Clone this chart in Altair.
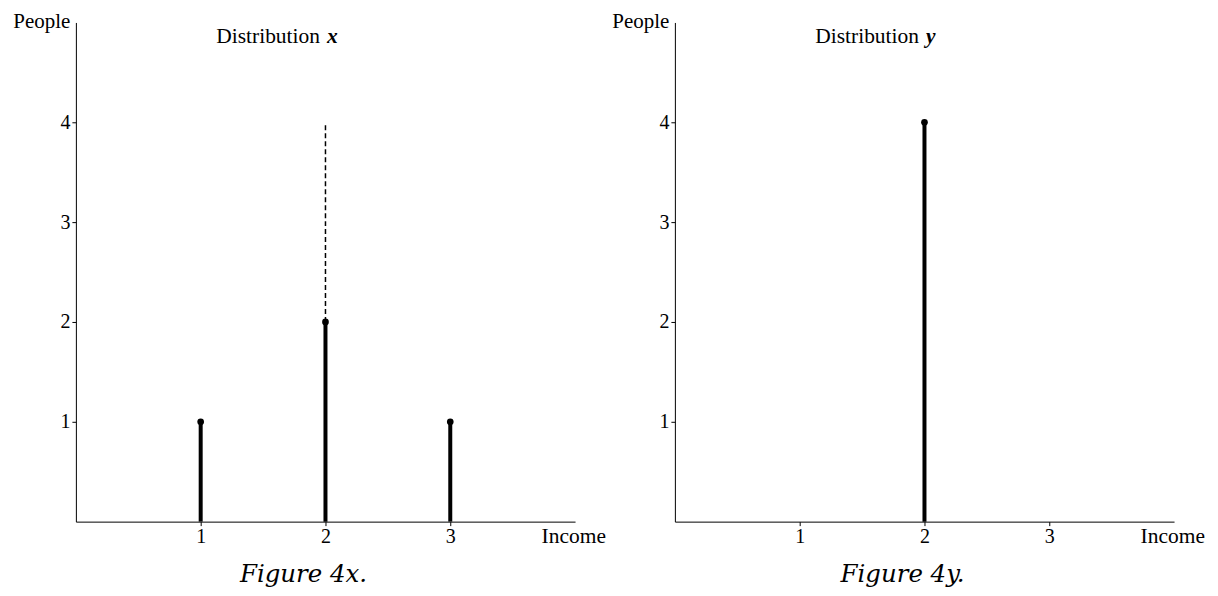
import altair as alt
import pandas as pd

# ---- data ----
income_x = [1, 2, 3]
people_x = [1, 2, 1]
dash_income_x = [2]
dash_from_x = [2]
dash_to_x = [4]

income_y = [2]
people_y = [4]

x_ticks = [1, 2, 3]
y_ticks = [1, 2, 3, 4]
x_domain = [0, 4]
y_domain = [0, 5]

label_pos_x = [1.98]
label_pos_y = [4.79]

SERIF = "Liberation Serif"


def panel(incomes, people, dash_inc, dash_from, dash_to, var, caption):
    df = pd.DataFrame({"income": incomes, "people": people})
    xs = alt.Scale(domain=x_domain, nice=False, zero=False)
    ys = alt.Scale(domain=y_domain, nice=False)
    xaxis = alt.Axis(values=x_ticks, format="d", title="Income", grid=False, domainColor="black",
                     tickColor="black", tickSize=4, labelFont=SERIF, labelFontSize=20,
                     labelColor="black", labelPadding=1, titleFont=SERIF, titleFontSize=21.5,
                     titleFontWeight="normal", titleColor="black", titleAlign="left",
                     titleAnchor="start", titleX=466, titleY=21, titleBaseline="alphabetic")
    yaxis = alt.Axis(values=y_ticks, format="d", title="People", grid=False, domainColor="black",
                     tickColor="black", tickSize=4, labelFont=SERIF, labelFontSize=20,
                     labelColor="black", labelPadding=2, titleFont=SERIF, titleFontSize=21,
                     titleFontWeight="normal", titleColor="black", titleAngle=0,
                     titleAlign="right", titleX=-6, titleY=5, titleBaseline="alphabetic")

    stems = alt.Chart(df).mark_rule(color="black", strokeWidth=4).encode(
        x=alt.X("income:Q", scale=xs, axis=xaxis),
        y=alt.Y("people:Q", scale=ys, axis=yaxis),
        y2=alt.datum(0),
    )
    dots = alt.Chart(df).mark_circle(color="black", size=45, opacity=1).encode(
        x=alt.X("income:Q", scale=xs),
        y=alt.Y("people:Q", scale=ys),
    )
    layers = [stems, dots]
    if dash_inc:
        ddf = pd.DataFrame({"income": dash_inc, "lo": dash_from, "hi": dash_to})
        dashed = alt.Chart(ddf).mark_rule(color="black", strokeWidth=1.5,
                                          strokeDash=[5, 3]).encode(
            x=alt.X("income:Q", scale=xs),
            y=alt.Y("lo:Q", scale=ys),
            y2="hi:Q",
        )
        layers.insert(0, dashed)
    ldf = pd.DataFrame({"lx": label_pos_x, "ly": label_pos_y, "t1": ["Distribution"], "t2": [var]})
    t1 = alt.Chart(ldf).mark_text(font=SERIF, fontSize=21.5, color="black", align="right",
                                  baseline="alphabetic", dx=-3).encode(
        x=alt.X("lx:Q", scale=xs), y=alt.Y("ly:Q", scale=ys), text="t1:N")
    t2 = alt.Chart(ldf).mark_text(font=SERIF, fontSize=21.5, color="black", align="left",
                                  baseline="alphabetic", fontStyle="italic", fontWeight="bold",
                                  dx=4).encode(
        x=alt.X("lx:Q", scale=xs), y=alt.Y("ly:Q", scale=ys), text="t2:N")
    layers += [t1, t2]
    return alt.layer(*layers).properties(
        width=500, height=500,
        view=alt.ViewBackground(strokeWidth=0, stroke="transparent"),
        title=alt.TitleParams(caption, orient="bottom", anchor="middle", font="DejaVu Serif",
                              fontSize=24.5, fontStyle="italic", fontWeight="normal",
                              color="black", dx=-22, offset=16),
    )


left = panel(income_x, people_x, dash_income_x, dash_from_x, dash_to_x, "x", "Figure 4x.")
right = panel(income_y, people_y, [], [], [], "y", "Figure 4y.")

chart = alt.hconcat(left, right, spacing=100, bounds="flush").properties(
    padding={"left": 4, "top": 2, "right": 5, "bottom": 0}
).configure_view(strokeWidth=0, stroke="transparent").configure(background="white")

chart.save("out.html", embed_options={"renderer": "svg", "actions": False})
